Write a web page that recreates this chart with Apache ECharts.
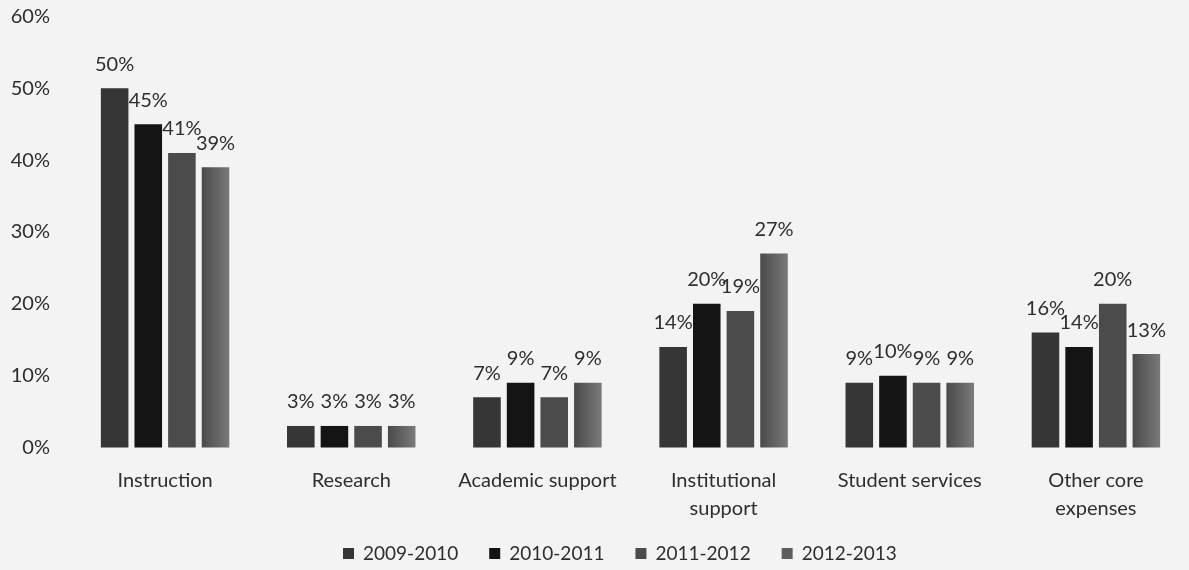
<!DOCTYPE html>
<html>
<head>
<meta charset="utf-8">
<script src="https://cdn.jsdelivr.net/npm/echarts@6/dist/echarts.min.js"></script>
<style>
  html, body { margin: 0; padding: 0; background: #f3f3f3; }
  #chart { width: 1189px; height: 570px; }
</style>
</head>
<body>
<div id="chart"></div>
<script>
// Share of core expenses by function, per academic year (percent)
const categories = ['Instruction', 'Research', 'Academic support', 'Institutional\nsupport', 'Student services', 'Other core\nexpenses'];
const years = ['2009-2010', '2010-2011', '2011-2012', '2012-2013'];
const y2009_2010 = [50, 3, 7, 14, 9, 16];
const y2010_2011 = [45, 3, 9, 20, 10, 14];
const y2011_2012 = [41, 3, 7, 19, 9, 20];
const y2012_2013 = [39, 3, 9, 27, 9, 13];
const yTicks = [0, 10, 20, 30, 40, 50, 60];

const seriesValues = [y2009_2010, y2010_2011, y2011_2012, y2012_2013];
const colors = [
  '#363636',
  '#141414',
  '#4b4b4b',
  new echarts.graphic.LinearGradient(0, 0, 1, 0, [
    { offset: 0, color: '#4a4a4a' },
    { offset: 1, color: '#7a7a7a' }
  ])
];
const legendColors = ['#363636', '#141414', '#4b4b4b', '#5e5e5e'];
const font = 'Lato, "Open Sans", sans-serif';
const textColor = '#2e2e2e';

const chart = echarts.init(document.getElementById('chart'));
chart.setOption({
  backgroundColor: '#f3f3f3',
  animation: false,
  textStyle: { fontFamily: font },
  grid: { left: 72, width: 1140, top: 16.5, bottom: 122.5 },
  legend: {
    top: 539,
    left: 338,
    itemWidth: 11,
    itemHeight: 11,
    itemGap: 31,
    icon: 'rect',
    textStyle: { fontSize: 19, color: textColor, fontFamily: font, padding: [0, 0, 0, 4] },
    data: years.map((y, i) => ({ name: y, itemStyle: { color: legendColors[i] } }))
  },
  xAxis: {
    type: 'category',
    data: categories,
    axisLine: { show: false },
    axisTick: { show: false },
    axisLabel: { interval: 0, fontSize: 20, color: textColor, margin: 19, lineHeight: 28, fontFamily: font }
  },
  yAxis: {
    type: 'value',
    min: yTicks[0],
    max: yTicks[yTicks.length - 1],
    interval: 10,
    splitLine: { show: false },
    axisLine: { show: false },
    axisTick: { show: false },
    axisLabel: { fontSize: 20, color: textColor, margin: 22, formatter: v => v + '%', fontFamily: font }
  },
  series: seriesValues.map((vals, i) => ({
    name: years[i],
    type: 'bar',
    data: vals,
    barGap: '22%',
    barCategoryGap: '31%',
    itemStyle: { color: colors[i] },
    label: {
      show: true,
      position: 'top',
      distance: 14,
      formatter: p => p.value + '%',
      fontSize: 20,
      color: textColor,
      fontFamily: font
    }
  }))
});
</script>
</body>
</html>
